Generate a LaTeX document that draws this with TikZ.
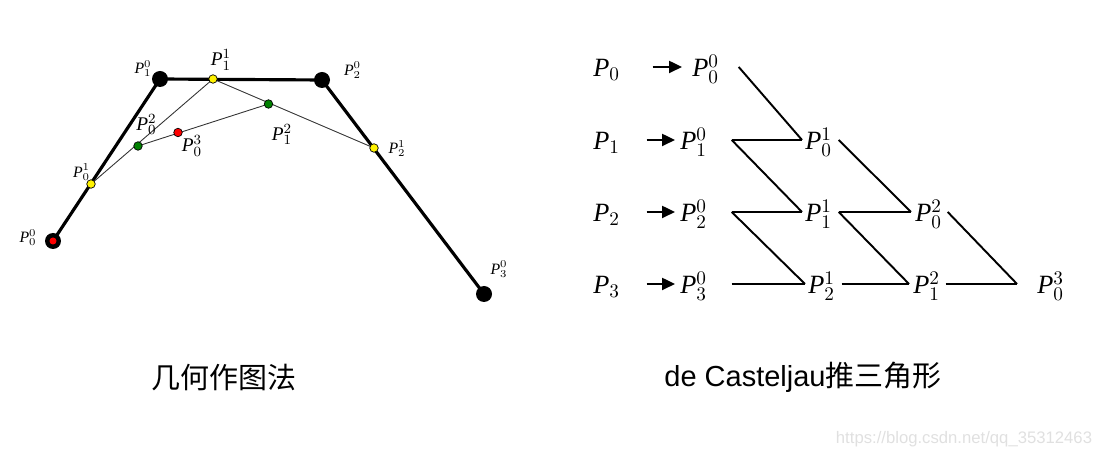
\documentclass[tikz,border=0pt]{standalone}
\usepackage{fontspec}
\setmainfont{Liberation Serif}
\newfontfamily\cjk{Noto Sans CJK SC}
\newfontfamily\arial{Liberation Sans}
\usetikzlibrary{arrows.meta}

\newcommand{\bz}[2]{$\mathit{P}_{#1}^{#2}$}
\newcommand{\bq}[1]{$\mathit{P}_{#1}$}

\begin{document}
\begin{tikzpicture}[
    x=0.02cm, y=-0.02cm,
    every node/.style={inner sep=0pt},
    ctrl/.style={circle, fill=black, minimum size=0.32cm},
    dot/.style={circle, draw=black, line width=0.4pt, fill=#1, minimum size=0.17cm},
    poly/.style={line width=1.8pt, line join=round},
    guide/.style={draw=black!80, line width=0.5pt},
    lbl/.style={font=\fontsize{9}{10}\selectfont},
    lblbig/.style={font=\fontsize{11}{12}\selectfont},
    cell/.style 2 args={anchor=base west, text width=#1, inner xsep=#2, align=left,
        text height=14pt, text depth=2.6pt, font=\fontsize{15}{18}\selectfont},
    zig/.style={line width=1.1pt},
    push/.style={line width=1.3pt, -{Triangle[length=0.26cm, width=0.24cm]}},
    caption/.style={font=\fontsize{16.5}{20}\selectfont}
]
\useasboundingbox (0,0) rectangle (1095,455);

% geometric construction
\coordinate (a0) at (53,241);
\coordinate (a1) at (160,79);
\coordinate (a2) at (322,80);
\coordinate (a3) at (484,294);
\coordinate (b0) at (91,184);
\coordinate (b1) at (213,79);
\coordinate (b2) at (374,148);
\coordinate (c0) at (138,146);
\coordinate (c1) at (268.5,104);
\coordinate (d0) at (178,132.5);

\draw[poly] (a0) -- (a1) -- (a2) -- (a3);
\draw[guide] (b0) -- (b1) -- (b2);
\draw[guide] (c0) -- (c1);

\node[ctrl] (n0) at (a0) {};
\node[circle, fill=red, minimum size=0.14cm] (n0r) at (a0) {};
\node[ctrl] (n1) at (a1) {};
\node[ctrl] (n2) at (a2) {};
\node[ctrl] (n3) at (a3) {};
\node[dot=yellow] (m0) at (b0) {};
\node[dot=yellow] (m1) at (b1) {};
\node[dot=yellow] (m2) at (b2) {};
\node[dot=green!50!black] (k0) at (c0) {};
\node[dot=green!50!black] (k1) at (c1) {};
\node[dot=red] (r0) at (d0) {};

\node[lbl] (l00) at (28,237.5) {\bz{0}{0}};
\node[lbl] (l10) at (143,68.5) {\bz{1}{0}};
\node[lbl] (l20) at (352.5,70) {\bz{2}{0}};
\node[lbl] (l30) at (499,269) {\bz{3}{0}};
\node[lbl] (l01) at (81.5,172) {\bz{0}{1}};
\node[lblbig] (l11) at (221,60) {\bz{1}{1}};
\node[lbl] (l21) at (397,148.5) {\bz{2}{1}};
\node[lblbig] (l02) at (146.5,124.5) {\bz{0}{2}};
\node[lblbig] (l12) at (282,134.5) {\bz{1}{2}};
\node[lblbig] (l03) at (192,146) {\bz{0}{3}};

% triangle scheme
\node[cell={1.18cm}{0pt}] (P0) at (593,77) {\bq{0}};
\node[cell={1.06cm}{0pt}] (P1) at (593,150) {\bq{1}};
\node[cell={1.06cm}{0pt}] (P2) at (593,222) {\bq{2}};
\node[cell={1.06cm}{0pt}] (P3) at (593,294) {\bq{3}};

\node[cell={0.72cm}{0.2cm}] (P00) at (682,77) {\bz{0}{0}};
\node[cell={0.92cm}{0.1cm}] (P10) at (675,150) {\bz{1}{0}};
\node[cell={0.92cm}{0.1cm}] (P20) at (675,222) {\bz{2}{0}};
\node[cell={0.92cm}{0.1cm}] (P30) at (675,294) {\bz{3}{0}};

\node[cell={0.6cm}{0.06cm}] (P01) at (802,150) {\bz{0}{1}};
\node[cell={0.6cm}{0.06cm}] (P11) at (802,222) {\bz{1}{1}};
\node[cell={0.6cm}{0.06cm}] (P21) at (805,294) {\bz{2}{1}};

\node[cell={0.56cm}{0.08cm}] (P02) at (911,222) {\bz{0}{2}};
\node[cell={0.56cm}{0.08cm}] (P12) at (909,294) {\bz{1}{2}};

\node[cell={0.6cm}{0.4cm}] (P03) at (1017,294) {\bz{0}{3}};

\draw[push] (P0.east) -- (P00.west);
\draw[push] (P1.east) -- (P10.west);
\draw[push] (P2.east) -- (P20.west);
\draw[push] (P3.east) -- (P30.west);

\draw[zig] (P00.east) -- (P01.west);
\draw[zig] (P10.east) -- (P01.west);
\draw[zig] (P10.east) -- (P11.west);
\draw[zig] (P20.east) -- (P11.west);
\draw[zig] (P20.east) -- (P21.west);
\draw[zig] (P30.east) -- (P21.west);
\draw[zig] (P01.east) -- (P02.west);
\draw[zig] (P11.east) -- (P02.west);
\draw[zig] (P11.east) -- (P12.west);
\draw[zig] (P21.east) -- (P12.west);
\draw[zig] (P02.east) -- (P03.west);
\draw[zig] (P12.east) -- (P03.west);

% captions
\node[caption] (geo) at (224,377.5) {\cjk 几何作图法};
\node[caption] (tri) at (803,377) {\arial de Casteljau\cjk 推三角形};
\node[font=\arial\fontsize{9.5}{11}\selectfont, text=black!12] (mark) at (964,439) {https://blog.csdn.net/qq\_35312463};

\end{tikzpicture}
\end{document}
